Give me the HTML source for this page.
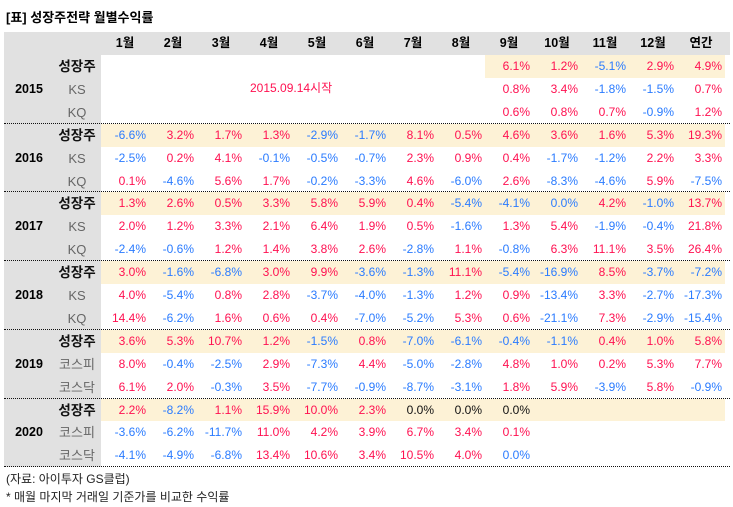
<!DOCTYPE html>
<html><head><meta charset="utf-8">
<style>
body{margin:0;width:733px;height:507px;background:#fff;position:relative;overflow:hidden;font-family:"Liberation Sans","Noto Sans CJK KR",sans-serif;}
.a{position:absolute;white-space:nowrap;}
.v{font-size:12px;text-align:right;width:45px;line-height:23px;}
.pos{color:#ff1050}.neg{color:#2a7bff}.zero{color:#111}
</style></head><body>
<div class="a" style="left:6px;top:7px;font-size:13px;font-weight:bold;">[표] 성장주전략 월별수익률</div>
<div class="a" style="left:4px;top:32px;width:726px;height:23px;background:#e1e1e1"></div>
<div class="a" style="left:4px;top:55px;width:97px;height:412px;background:#e1e1e1"></div>
<div id="tbl"></div>
<div class="a" style="left:250px;top:77px;font-size:12px;color:#ff1050;line-height:23px">2015.09.14시작</div>
<div class="a" style="left:6px;top:470px;font-size:12px;color:#222">(자료: 아이투자 GS클럽)</div>
<div class="a" style="left:6px;top:488px;font-size:12px;color:#222">* 매월 마지막 거래일 기준가를 비교한 수익률</div>
<script>
const months=["1월","2월","3월","4월","5월","6월","7월","8월","9월","10월","11월","12월","연간"];
const years=["2015","2016","2017","2018","2019","2020"];
const rowLabels=[["성장주","KS","KQ"],["성장주","KS","KQ"],["성장주","KS","KQ"],["성장주","KS","KQ"],["성장주","코스피","코스닥"],["성장주","코스피","코스닥"]];
const N=null;
const values=[
[[N,N,N,N,N,N,N,N,6.1,1.2,-5.1,2.9,4.9],[N,N,N,N,N,N,N,N,0.8,3.4,-1.8,-1.5,0.7],[N,N,N,N,N,N,N,N,0.6,0.8,0.7,-0.9,1.2]],
[[-6.6,3.2,1.7,1.3,-2.9,-1.7,8.1,0.5,4.6,3.6,1.6,5.3,19.3],[-2.5,0.2,4.1,-0.1,-0.5,-0.7,2.3,0.9,0.4,-1.7,-1.2,2.2,3.3],[0.1,-4.6,5.6,1.7,-0.2,-3.3,4.6,-6.0,2.6,-8.3,-4.6,5.9,-7.5]],
[[1.3,2.6,0.5,3.3,5.8,5.9,0.4,-5.4,-4.1,0.0,4.2,-1.0,13.7],[2.0,1.2,3.3,2.1,6.4,1.9,0.5,-1.6,1.3,5.4,-1.9,-0.4,21.8],[-2.4,-0.6,1.2,1.4,3.8,2.6,-2.8,1.1,-0.8,6.3,11.1,3.5,26.4]],
[[3.0,-1.6,-6.8,3.0,9.9,-3.6,-1.3,11.1,-5.4,-16.9,8.5,-3.7,-7.2],[4.0,-5.4,0.8,2.8,-3.7,-4.0,-1.3,1.2,0.9,-13.4,3.3,-2.7,-17.3],[14.4,-6.2,1.6,0.6,0.4,-7.0,-5.2,5.3,0.6,-21.1,7.3,-2.9,-15.4]],
[[3.6,5.3,10.7,1.2,-1.5,0.8,-7.0,-6.1,-0.4,-1.1,0.4,1.0,5.8],[8.0,-0.4,-2.5,2.9,-7.3,4.4,-5.0,-2.8,4.8,1.0,0.2,5.3,7.7],[6.1,2.0,-0.3,3.5,-7.7,-0.9,-8.7,-3.1,1.8,5.9,-3.9,5.8,-0.9]],
[[2.2,-8.2,1.1,15.9,10.0,2.3,0.0,0.0,0.0,N,N,N,N],[-3.6,-6.2,-11.7,11.0,4.2,3.9,6.7,3.4,0.1,N,N,N,N],[-4.1,-4.9,-6.8,13.4,10.6,3.4,10.5,4.0,0.0,N,N,N,N]]
];
const blueZeros=[[2,0,9],[5,2,8]];
const X0=101,CW=48,Y0=55,RH=22.9,GH=RH*3;
const colX=i=>X0+CW*i;
const rowY=(g,r)=>Y0+g*GH+r*RH;
const root=document.body;
function mk(cls,css,txt){const d=document.createElement('div');d.className='a '+cls;d.style.cssText=css;if(txt!=null)d.textContent=txt;root.appendChild(d);return d;}
months.forEach((m,i)=>{
  const d=mk('', `left:${colX(i)}px;top:32px;width:${CW}px;text-align:center;font-size:12.5px;font-weight:bold;line-height:23px`,m);
  
  
});
years.forEach((y,g)=>{
  const start = g===0 ? colX(8) : X0;
  const hl=mk('',`left:${start}px;top:${rowY(g,0)}px;width:${725-start}px;height:${RH}px;background:#fdf2d6`);
  
  
  const yd=mk('',`left:4px;top:${rowY(g,1)}px;width:50px;text-align:center;font-size:12.5px;font-weight:bold;line-height:23px`,y);
  
  
  rowLabels[g].forEach((l,r)=>{
    const ld=mk('',`left:52px;top:${rowY(g,r)}px;width:50px;text-align:center;font-size:${r===0?13.5:13}px;${r===0?'font-weight:bold;color:#111':'color:#666'};line-height:23px`,l);
    
    
    values[g][r].forEach((v,i)=>{
      if(v===null)return;
      let c=v>0?'pos':v<0?'neg':'zero';
      if(v===0&&blueZeros.some(z=>z[0]===g&&z[1]===r&&z[2]===i))c='neg';
      const vd=mk('v '+c,`left:${colX(i)}px;top:${rowY(g,r)}px`,v.toFixed(1)+'%');
      
      
    });
  });
  const ln=mk('',`left:4px;top:${Y0+(g+1)*GH-1}px;width:726px;border-top:1.5px dotted #111`);
  
  
});
</script>
</body></html>
